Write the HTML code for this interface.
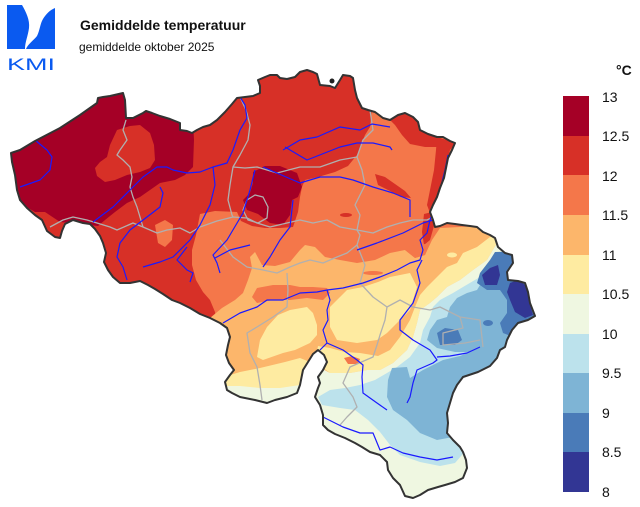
<!DOCTYPE html>
<html><head><meta charset="utf-8"><style>
html,body{margin:0;padding:0;background:#fff;}
svg{display:block;}
text{font-family:"Liberation Sans",Arial,sans-serif;}
</style></head><body>
<svg width="640" height="507" viewBox="0 0 640 507" xmlns="http://www.w3.org/2000/svg">
<rect width="640" height="507" fill="#fff"/>
<defs>
<clipPath id="be"><path id="bepath" d="M11,153 L20,150 L35,141 L60,128 L80,115 L97,103 L98,98 L103,97 L110,96 L123,93 L125,100 L126,118 L133,118 L143,113 L146,111 L152,113 L160,116 L170,119 L180,123 L180,130 L187,131 L192,133 L197,130 L203,127 L210,125 L217,120 L225,112 L232,104 L237,98 L245,97 L253,96 L260,93 L260,86 L258,80 L265,77 L270,75 L277,75 L280,78 L287,79 L295,77 L300,72 L307,70 L313,72 L317,74 L320,85 L330,86 L335,88 L340,80 L343,75 L350,76 L353,78 L355,90 L357,98 L362,108 L368,110 L375,112 L383,118 L390,120 L398,115 L405,113 L413,117 L418,122 L420,130 L428,134 L437,137 L443,137 L450,141 L455,143 L452,150 L448,158 L446,168 L444,178 L440,188 L437,197 L433,205 L430,212 L433,220 L435,227 L440,226 L447,223 L455,224 L462,225 L470,226 L477,227 L483,232 L490,235 L495,238 L498,247 L505,253 L512,255 L513,263 L507,272 L508,280 L518,281 L525,283 L528,292 L530,303 L535,316 L528,320 L518,323 L512,330 L507,340 L505,347 L500,350 L497,358 L490,366 L478,372 L463,377 L457,385 L453,393 L450,403 L447,413 L448,423 L447,433 L453,440 L460,447 L463,452 L466,460 L467,468 L463,478 L455,482 L445,485 L438,487 L428,490 L420,495 L413,498 L405,496 L400,485 L393,478 L388,470 L387,462 L380,455 L370,452 L362,447 L355,443 L345,438 L335,434 L328,430 L323,425 L323,415 L320,405 L315,397 L318,388 L320,383 L318,377 L323,370 L327,362 L324,355 L318,350 L313,354 L308,362 L303,370 L300,385 L297,393 L287,397 L275,400 L267,403 L255,400 L240,397 L232,393 L227,390 L225,382 L230,375 L234,370 L229,363 L226,355 L228,345 L230,337 L227,328 L220,323 L210,318 L200,314 L190,308 L180,303 L172,300 L163,294 L155,289 L148,285 L140,281 L130,283 L120,283 L113,277 L108,270 L104,262 L106,253 L103,243 L100,236 L95,229 L90,224 L83,223 L73,220 L65,224 L62,231 L60,238 L55,237 L47,231 L42,220 L35,215 L27,208 L20,200 L17,190 L15,175 L12,162 Z"/></clipPath>
</defs>

<g clip-path="url(#be)">
<!-- base 12-12.5 -->
<rect x="0" y="50" width="560" height="460" fill="#d73027"/>
<!-- 12.5-13 west -->
<polygon fill="#a50026" points="0,140 60,110 125,88 193,120 194,140 193,167 185,175 175,180 160,183 150,190 140,197 127,203 115,212 105,220 98,226 80,224 60,222 45,212 35,212 20,203 0,205"/>
<polygon fill="#d73027" points="117,130 130,126 140,125 150,133 154,145 155,160 150,168 140,172 127,175 115,180 105,182 97,176 95,168 100,162 107,157 110,145"/>
<!-- Brussels dark patch -->
<polygon fill="#a50026" points="253,172 265,166 280,166 297,173 302,187 298,197 292,200 290,215 283,225 270,223 258,214 247,210 243,200 250,193 253,183"/>
<!-- 11.5-12 -->
<polygon fill="#f4774a" points="560,60 470,100 437,137 433,147 410,143 397,123 388,118 372,108 370,127 365,135 357,155 348,166 335,172 318,177 305,180 302,187 300,197 298,212 293,227 280,228 265,228 252,226 241,221 237,212 215,211 200,214 196,235 192,250 192,265 196,280 203,292 210,300 215,312 218,330 300,520 560,520"/>
<polygon fill="#f4774a" points="155,225 165,220 173,225 172,240 165,247 158,243"/>
<!-- red patches over orange -->
<polygon fill="#d73027" points="437,137 447,140 456,143 450,150 446,168 441,190 434,205 430,213 427,205 430,190 434,170 436,150"/>
<polygon fill="#d73027" points="388,118 398,115 405,113 413,117 420,130 437,137 437,147 425,147 410,144 402,135 395,125"/>
<polygon fill="#d73027" points="375,174 385,177 395,184 405,191 411,198 401,197 390,191 378,185"/>
<polygon fill="#d73027" points="424,214 432,212 434,226 430,240 424,245 422,232"/>
<ellipse cx="346" cy="215" rx="6" ry="2" fill="#d73027"/>
<!-- 11-11.5 -->
<polygon fill="#fcb66b" points="200,330 210,318 222,308 235,300 243,293 248,280 252,268 250,257 255,252 262,265 275,266 290,262 300,250 305,245 315,247 325,257 340,260 357,263 375,260 390,253 405,250 415,258 425,255 432,240 440,228 480,226 560,220 560,520 200,520"/>
<polygon fill="#f4774a" points="252,297 257,288 273,285 290,285 300,287 313,287 327,288 330,293 323,300 307,298 290,300 273,300 257,303"/>
<polygon fill="#f4774a" points="405,250 415,258 425,255 430,243 420,245 410,246"/>
<ellipse cx="373" cy="273" rx="10" ry="2" fill="#f4774a"/>
<!-- 10.5-11 yellow -->
<polygon fill="#feeba1" points="267,327 278,315 290,310 307,307 313,313 317,325 317,335 310,343 295,350 283,353 263,360 257,357 260,340"/>
<polygon fill="#feeba1" points="330,307 340,297 347,290 363,287 378,282 390,277 410,273 417,287 413,300 410,310 397,323 387,333 377,340 357,343 337,340 330,327"/>
<polygon fill="#feeba1" points="224,377 240,372 260,368 285,362 300,358 310,362 305,372 300,385 295,395 260,405 224,395"/>
<polygon fill="#feeba1" points="560,230 505,235 490,237 477,247 463,253 457,263 447,267 437,277 427,287 420,295 415,307 410,320 400,337 390,350 378,356 360,353 345,352 330,348 318,346 315,362 330,373 350,373 367,370 380,370 393,363 407,350 413,337 417,323 420,310 430,303 437,297 447,287 460,280 473,270 487,260 497,243 560,240"/>
<ellipse cx="452" cy="255" rx="5" ry="2.5" fill="#feeba1"/>
<polygon fill="#f4774a" points="344,358 352,356 360,359 358,364 348,364"/>
<!-- 10-10.5 pale green -->
<polygon fill="#eff7e1" points="221,386 240,386 260,388 280,388 300,385 300,405 260,410 218,402"/>
<polygon fill="#eff7e1" points="560,228 505,238 497,243 487,260 473,270 460,280 447,287 437,297 430,303 420,310 417,323 413,337 407,350 393,363 380,370 367,370 350,373 330,373 315,365 308,378 308,520 560,520"/>
<!-- 9.5-10 light blue -->
<polygon fill="#bce2ec" points="560,242 510,250 503,253 490,263 480,277 463,287 453,293 440,300 433,307 430,317 423,330 420,343 410,357 397,367 387,373 375,380 360,385 345,388 330,390 318,397 322,405 340,408 355,410 368,420 380,432 390,445 400,455 420,462 440,466 455,463 462,455 470,440 560,440"/>
<!-- 9-9.5 mid blue -->
<polygon fill="#7eb4d5" points="560,248 513,257 500,263 493,270 483,280 477,290 467,293 457,298 450,307 447,317 437,320 430,330 427,340 437,348 455,352 470,352 460,356 443,360 423,370 410,378 407,367 392,368 388,380 387,397 393,410 407,420 420,433 437,440 453,437 463,417 480,400 560,400"/>
<!-- 8.5-9 -->
<polygon fill="#4a7bb8" points="495,252 490,260 480,273 477,283 487,290 500,290 507,300 507,313 500,323 503,333 513,337 530,322 560,320 560,250"/>
<polygon fill="#4a7bb8" points="437,333 445,328 458,330 462,340 455,345 440,345"/>
<ellipse cx="488" cy="323" rx="5" ry="3" fill="#4a7bb8"/>
<!-- 8-8.5 -->
<polygon fill="#323694" points="482,275 490,268 498,265 500,275 497,285 485,285"/>
<polygon fill="#323694" points="510,283 518,280 525,285 528,295 530,305 533,315 525,318 515,312 510,300 507,292"/>

<!-- provincial boundaries -->
<g fill="none" stroke="#b0b0b0" stroke-width="1.3" stroke-linejoin="round">
<polyline points="126,120 123,130 127,140 120,150 117,155 123,160 130,167 132,177 130,187 133,197 137,207 140,217 143,227"/>
<polyline points="50,227 63,220 73,217 87,220 97,223 110,227 117,230 133,223 143,227 157,233 167,230 180,228 190,233 200,227 217,221 233,217 247,218 257,223 270,227 287,223 300,220 313,223 327,220 340,227 357,230 373,233 387,227 400,223 413,220 427,220 433,217"/>
<polyline points="240,97 246,110 250,125 248,140 240,155 233,167 230,185 228,200 232,215 233,217"/>
<polyline points="233,167 245,168 257,167 277,173 300,167 320,167 340,160 357,157"/>
<polyline points="357,157 363,140 373,130 370,110"/>
<polyline points="357,157 362,170 365,185 360,195 355,205 360,215 357,230"/>
<polygon points="247,200 255,195 263,197 268,207 267,218 258,223 248,220 243,210"/>
<polyline points="220,240 233,257 247,267 263,270 277,273 290,267 300,263 310,260 323,263 337,257 347,253 357,245 360,235 357,230"/>
<polyline points="287,273 288,290 287,307 273,317 257,327 247,333 250,353 257,367 260,385 262,400"/>
<polyline points="357,245 365,265 360,283 373,297 387,307 400,300 413,307 430,310 440,307 460,317 480,320 483,347"/>
<polyline points="387,307 385,320 380,335 377,345 373,357 350,367 343,383 353,397 357,407 347,417 340,425"/>
<polyline points="460,317 463,328 443,333 443,345 465,343 480,340"/>
</g>

<!-- rivers -->
<g fill="none" stroke="#1a1aff" stroke-width="1.2" stroke-linejoin="round">
<polyline points="35,140 47,150 52,157 50,170 40,180 20,187"/>
<polyline points="93,222 113,207 130,190 143,177 157,167 167,167 173,170 187,173 200,172 213,167 227,163 233,150 240,130 247,118 245,105 240,97"/>
<polyline points="160,187 163,193 160,207 147,217 130,230 120,243 117,257 123,267 127,280"/>
<polyline points="213,167 215,185 210,205 200,225 190,240 178,252 173,257 160,262 143,267"/>
<polyline points="187,247 177,260 187,270 193,273 190,282"/>
<polyline points="255,170 250,190 243,213 227,240 213,255 217,263 220,273"/>
<polyline points="293,200 290,227 280,240 270,257 263,267"/>
<polyline points="263,167 300,183 320,177 340,177 353,180 373,187 393,193 410,200 410,217"/>
<polyline points="283,150 300,140 317,137 340,127 360,130 372,124 390,127"/>
<polyline points="285,147 307,160 340,147 357,143 373,143 390,147 392,150"/>
<polyline points="357,250 377,243 403,233 423,223 433,220"/>
<polyline points="430,220 435,205 440,190 445,170 448,155"/>
<polyline points="223,323 240,313 257,307 267,300 283,300 300,293 317,292 327,290 343,288 363,283 380,277 397,270 410,263 420,260 423,250 420,240 427,233 430,220"/>
<polyline points="327,290 330,300 327,310 328,320 323,330 327,343 320,350"/>
<polyline points="327,343 343,350 357,360 363,365 362,377 363,393 377,403 387,410"/>
<polyline points="422,260 417,270 420,283 413,303 400,320 400,330 413,340 430,350 437,360 433,363 417,370 413,383 410,397 407,403"/>
<polyline points="437,357 450,356 467,353 480,347"/>
<polyline points="323,417 343,427 360,433 373,433 380,450 390,447 403,453 420,457 437,460 453,457"/>
<polyline points="215,258 230,250 250,245"/>
</g>
</g>
<use href="#bepath" fill="none" stroke="#333" stroke-width="2" stroke-linejoin="round"/>
<circle cx="332" cy="81" r="2.5" fill="#222"/>

<!-- logo -->
<path d="M7,5 L22,5 C26,12 30,20 29,28 C28,36 25,42 25,49 L7,49 Z" fill="#0a5af0"/>
<path d="M55,8 L55,49 L26,49 C28,44 34,40 37,36 C40,30 40,24 43,19 C46,14 50,10 55,8 Z" fill="#0a5af0"/>
<text x="7" y="70" font-size="17" fill="#0a5af0" textLength="48" lengthAdjust="spacingAndGlyphs">KMI</text>

<!-- title -->
<text x="80" y="30" font-size="14" font-weight="bold" fill="#111">Gemiddelde temperatuur</text>
<text x="79" y="51" font-size="12" fill="#111">gemiddelde oktober 2025</text>

<!-- legend -->
<text x="616" y="75" font-size="14" font-weight="bold" fill="#111">°C</text>
<rect x="563" y="96" width="26" height="40" fill="#a50026"/>
<rect x="563" y="136" width="26" height="39" fill="#d73027"/>
<rect x="563" y="175" width="26" height="40" fill="#f4774a"/>
<rect x="563" y="215" width="26" height="40" fill="#fcb66b"/>
<rect x="563" y="255" width="26" height="39" fill="#feeba1"/>
<rect x="563" y="294" width="26" height="40" fill="#eff7e1"/>
<rect x="563" y="334" width="26" height="39" fill="#bce2ec"/>
<rect x="563" y="373" width="26" height="40" fill="#7eb4d5"/>
<rect x="563" y="413" width="26" height="39" fill="#4a7bb8"/>
<rect x="563" y="452" width="26" height="40" fill="#323694"/>
<g font-size="14" fill="#111">
<text x="602" y="102">13</text>
<text x="602" y="141">12.5</text>
<text x="602" y="181">12</text>
<text x="602" y="220">11.5</text>
<text x="602" y="260">11</text>
<text x="602" y="299">10.5</text>
<text x="602" y="339">10</text>
<text x="602" y="378">9.5</text>
<text x="602" y="418">9</text>
<text x="602" y="457">8.5</text>
<text x="602" y="497">8</text>
</g>
</svg>
</body></html>
